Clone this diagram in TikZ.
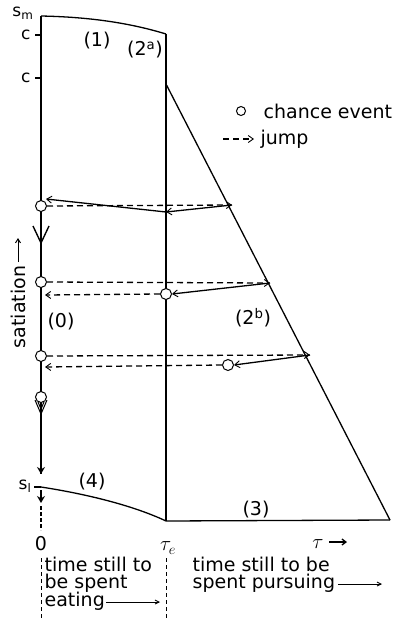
\documentclass[tikz,border=0pt]{standalone}
\usepackage{fontspec}
\setmainfont{DejaVu Sans}
\usetikzlibrary{arrows.meta}
\begin{document}
\begin{tikzpicture}[x=1pt,y=-1pt, line width=1.3pt,
  lbl/.style={font=\fontsize{19}{21}\selectfont, inner sep=0pt},
  sm/.style={font=\fontsize{17}{19}\selectfont, inner sep=0pt},
  tip/.style={-{Straight Barb[length=5pt,width=7pt,line width=0.9pt]}},
  jmp/.style={dash pattern=on 6pt off 4pt, tip},
  traj/.style={tip},
  ev/.style={circle, draw, fill=white, minimum size=11pt, inner sep=0pt, line width=1pt}]
\useasboundingbox (0,0) rectangle (393,624);

% key points
\coordinate (sm) at (41,16);
\coordinate (topR) at (166,34);
\coordinate (kink) at (166,84);
\coordinate (bR) at (166,521);
\coordinate (cR) at (390,520);
\coordinate (slP) at (41,487);

% main frame
\draw (sm) -- (41,474);
\draw (topR) -- (bR);
\draw (sm) .. controls (90,17) and (130,23) .. (topR);
\draw (kink) -- (cR);
\draw (bR) -- (cR);
\draw (slP) .. controls (80,493) and (130,504) .. (bR);

% ticks
\draw (35,35) -- (41,35);
\draw (35,78) -- (41,78);
\draw (34,487) -- (41,487);
\node[sm, anchor=east] (lsm) at (34,13) {s\textsubscript{m}};
\node[sm, anchor=east] (lc1) at (31,35) {c};
\node[sm, anchor=east] (lc2) at (31,78) {c};
\node[sm, anchor=east] (lsl) at (32,486) {s\textsubscript{l}};

% axis arrows
\draw[line width=1.4pt] (33,226) -- (41,243) -- (49,226);
\draw[-{Stealth[length=7pt,width=8pt]}] (41,460) -- (41,474);
\draw[-{Stealth[length=7pt,width=8pt]}] (41,490) -- (41,503);
\draw[dash pattern=on 4pt off 2pt, line width=1.6pt] (41,506) -- (41,530);

% jump 1
\node[ev] (e1) at (41,206) {};
\coordinate (d1) at (232,205);
\coordinate (m1) at (166,212);
\coordinate (a1) at (46,199);
\draw[jmp] (e1.east) -- (d1);
\draw[traj] (d1) -- (m1);
\draw[traj] (m1) -- (a1);

% jump 2
\node[ev] (e2) at (41,282) {};
\coordinate (d2) at (270,283);
\node[ev] (e2b) at (166,294) {};
\coordinate (a2) at (45,295);
\draw[jmp] (e2.east) -- (d2);
\draw[traj] (d2) -- (e2b.east);
\draw[jmp] (e2b.west) -- (a2);

% jump 3
\node[ev] (e3) at (41,356) {};
\coordinate (d3) at (310,355);
\node[ev] (e3b) at (228,365) {};
\coordinate (a3) at (45,367);
\draw[jmp] (e3.east) -- (d3);
\draw[traj] (d3) -- (e3b.east);
\draw[jmp] (e3b.west) -- (a3);

% event with hollow chevron
\draw[line width=1pt] (35,400) -- (41,414) -- (47,400);
\draw[line width=1pt] (38,402) -- (41,409) -- (44,402);
\node[ev] (e4) at (41,397) {};

% labels
\node[lbl] (l1) at (97,41) {(1)};
\node[lbl] (l2a) at (145,50) {(2\textsuperscript{a})};
\node[lbl] (l2b) at (253,318) {(2\textsuperscript{b})};
\node[lbl] (l0) at (61,322) {(0)};
\node[lbl] (l4) at (92,482) {(4)};
\node[lbl] (l3) at (256,510) {(3)};

% satiation
\node[lbl, rotate=90] (sat) at (18,307) {satiation};
\draw[-{Straight Barb[length=4pt,width=5pt]}, line width=1pt] (18,262) -- (18,238);

% legend
\node[ev, minimum size=9pt] (leg) at (241,111) {};
\node[lbl, anchor=west] (legt) at (263,111) {chance event};
\coordinate (lj1) at (223,139);
\coordinate (lj2) at (254,139);
\draw[jmp] (lj1) -- (lj2);
\node[lbl, anchor=west] (legj) at (260,139) {jump};

% axis labels
\node[lbl] (z) at (41,544) {0};
\node[font=\fontsize{22}{24}\selectfont, inner sep=0pt] (te) at (168,548) {$\tau_e$};
\node[font=\fontsize{22}{24}\selectfont, inner sep=0pt] (tau) at (318,544) {$\tau$};
\coordinate (ta1) at (329,542);
\coordinate (ta2) at (347,542);
\draw[-{Straight Barb[length=4pt,width=6pt]}] (ta1) -- (ta2);

% bottom text
\draw[dash pattern=on 4pt off 3pt, line width=0.9pt] (41,558) -- (41,620);
\draw[dash pattern=on 4pt off 3pt, line width=0.9pt] (166,558) -- (166,620);
\node[lbl, anchor=west] (t1) at (44,564) {time still to};
\node[lbl, anchor=west] (t2) at (44,583) {be spent};
\node[lbl, anchor=west] (t3) at (44,601) {eating};
\coordinate (ea1) at (106,602);
\coordinate (ea2) at (160,602);
\draw[-{Straight Barb[length=4pt,width=4pt]}, line width=0.9pt] (ea1) -- (ea2);
\node[lbl, anchor=west] (t4) at (192,564) {time still to be};
\node[lbl, anchor=west] (t5) at (192,583) {spent pursuing};
\coordinate (pa1) at (338,584);
\coordinate (pa2) at (382,584);
\draw[-{Straight Barb[length=4pt,width=4pt]}, line width=0.9pt] (pa1) -- (pa2);
\end{tikzpicture}
\end{document}
